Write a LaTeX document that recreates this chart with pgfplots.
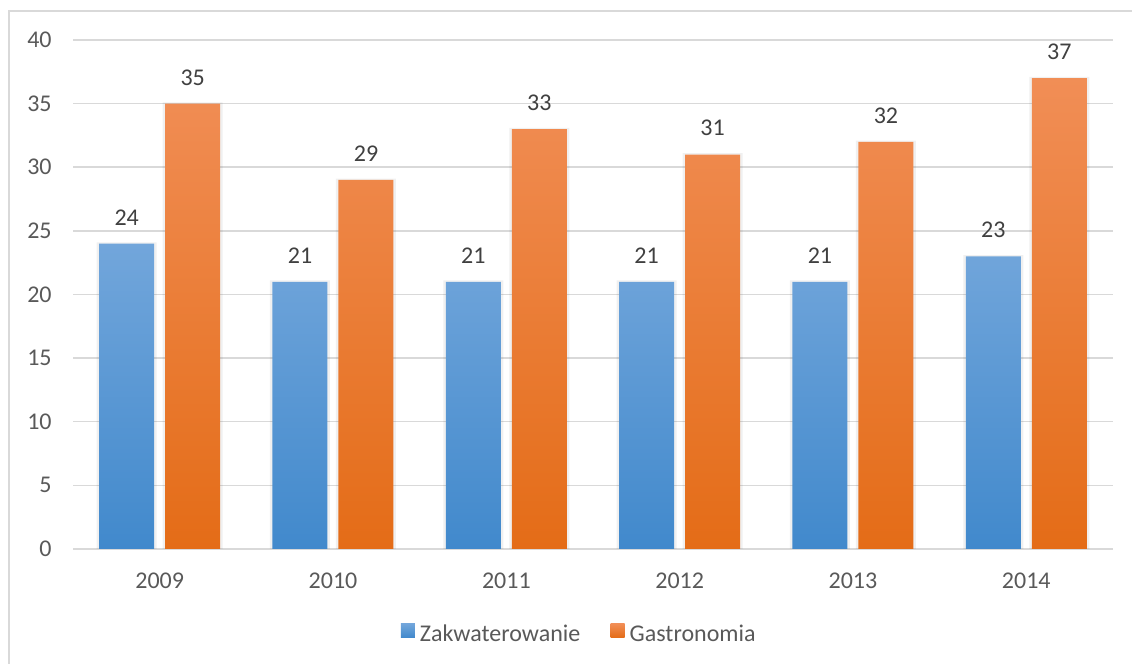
\documentclass[border=0pt]{standalone}
\usepackage{fontspec}
\setmainfont{Carlito}
\usepackage{pgfplots}
\pgfplotsset{compat=1.18}
\definecolor{gridc}{HTML}{D9D9D9}
\definecolor{tickc}{HTML}{595959}
\definecolor{labc}{HTML}{404040}
\definecolor{btop}{HTML}{72A6DB}
\definecolor{bmid}{HTML}{5699DA}
\definecolor{bbot}{HTML}{4189CC}
\definecolor{otop}{HTML}{F18E56}
\definecolor{omid}{HTML}{F57E2C}
\definecolor{obot}{HTML}{E46C17}
\begin{document}
\fontsize{12pt}{14pt}\selectfont
\begin{tikzpicture}[x=1pt,y=1pt]
\path[use as bounding box] (0,0) rectangle (566,332);
\draw[gridc, line width=1pt] (4.5,-10) -- (4.5,326.5) -- (600,326.5);
\begin{axis}[
  at={(36.5pt,57.5pt)}, anchor=south west,
  scale only axis, width=520pt, height=254.5pt,
  xmin=-0.5, xmax=5.5, ymin=0, ymax=40,
  ytick={0,5,...,40},
  xtick={0,1,2,3,4,5},
  xticklabels={2009,2010,2011,2012,2013,2014},
  axis line style={draw=none},
  major tick length=0pt,
  ymajorgrids,
  grid style={gridc, line width=0.75pt},
  tick label style={font=\fontsize{12pt}{14pt}\selectfont, text=tickc},
  yticklabel style={inner sep=0pt, xshift=-10.5pt},
  xticklabel style={inner sep=0pt, yshift=-12pt},
  /pgf/number format/assume math mode=true,
  ybar, bar width=27.5pt,
  clip=false,
  nodes near coords style={font=\fontsize{12pt}{14pt}\selectfont, text=labc, inner sep=0pt, anchor=south, yshift=9pt},
  legend style={at={(0.487,-0.169)}, anchor=center, draw=none, fill=none,
    legend columns=-1, font=\fontsize{12pt}{14pt}\selectfont, text=tickc,
    /tikz/every even column/.append style={column sep=14pt},
    nodes={inner sep=1.2pt}},
  legend image code/.code={\path (0pt,0pt) -- (8.3pt,0pt);\path[#1, draw=none] (0pt,-1.3pt) rectangle (7pt,5.7pt);},
]
\addplot[forget plot, bar shift=-16.5pt, bar width=30pt, fill=black, draw=none, fill opacity=0.06] coordinates {(0,24.1) (1,21.1) (2,21.1) (3,21.1) (4,21.1) (5,23.1)};
\addplot[forget plot, bar shift=16.5pt, bar width=30pt, fill=black, draw=none, fill opacity=0.06] coordinates {(0,35.1) (1,29.1) (2,33.1) (3,31.1) (4,32.1) (5,37.1)};
\addplot[bar shift=-16.5pt, draw=none, top color=btop, middle color=bmid, bottom color=bbot, nodes near coords] coordinates {(0,24) (1,21) (2,21) (3,21) (4,21) (5,23)};
\addplot[bar shift=16.5pt, draw=none, top color=otop, middle color=omid, bottom color=obot, nodes near coords] coordinates {(0,35) (1,29) (2,33) (3,31) (4,32) (5,37)};
\legend{Zakwaterowanie, Gastronomia}
\end{axis}
\end{tikzpicture}
\end{document}
